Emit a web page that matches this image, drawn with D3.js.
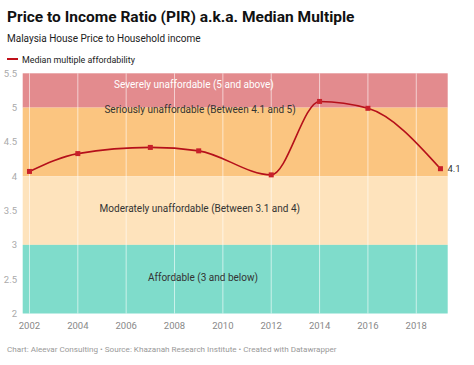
<!DOCTYPE html>
<html><head><meta charset="utf-8">
<script src="https://cdn.jsdelivr.net/npm/d3@7"></script>
<style>body{margin:0;background:#fff;font-family:Roboto,sans-serif}</style>
</head><body><svg id="c" width="474" height="365"></svg>
<script>
const years = [2002, 2004, 2007, 2009, 2012, 2014, 2016, 2019];
const pir = [4.07, 4.33, 4.42, 4.37, 4.02, 5.09, 4.99, 4.11];
const xTicks = [2002, 2004, 2006, 2008, 2010, 2012, 2014, 2016, 2018];
const yTicks = [2, 2.5, 3, 3.5, 4, 4.5, 5, 5.5];
const bandLo = [5, 4, 3, 2];
const bandHi = [5.5, 5, 4, 3];
const bandColors = ["#e38b8e", "#fbc580", "#fee3bc", "#7fdccb"];
const bandLabels = ["Severely unaffordable (5 and above)", "Seriously unaffordable (Between 4.1 and 5)", "Moderately unaffordable (Between 3.1 and 4)", "Affordable (3 and below)"];
const bandLabelYear = [2005.5, 2005.1, 2004.9, 2006.9];
const bandLabelVal = [5.28, 4.92, 3.48, 2.47];
const bandLabelColors = ["#fff", "#333", "#333", "#333"];

const svg = d3.select("#c");
const x = d3.scaleLinear().domain([2001.72, 2019.3]).range([22.7, 447.7]);
const y = d3.scaleLinear().domain([2, 5.5]).range([313.5, 73.3]);

svg.append("text").attr("x", 7).attr("y", 22).attr("font-size", 15.5).attr("font-weight", 700).attr("fill", "#111")
  .text("Price to Income Ratio (PIR) a.k.a. Median Multiple");
svg.append("text").attr("x", 7).attr("y", 42).attr("font-size", 10).attr("fill", "#222")
  .text("Malaysia House Price to Household income");
svg.append("line").attr("x1", 7).attr("x2", 18).attr("y1", 59).attr("y2", 59).attr("stroke", "#c0101a").attr("stroke-width", 2);
svg.append("text").attr("x", 22).attr("y", 62.5).attr("font-size", 8.9).attr("fill", "#222").text("Median multiple affordability");

// bands
svg.selectAll("rect.band").data(bandLo).join("rect")
  .attr("x", x(2001.72)).attr("width", x(2019.3) - x(2001.72))
  .attr("y", (d, i) => y(bandHi[i])).attr("height", (d, i) => y(d) - y(bandHi[i]))
  .attr("fill", (d, i) => bandColors[i]);

// vertical grid
svg.selectAll("line.grid").data(xTicks).join("line")
  .attr("x1", d => x(d)).attr("x2", d => x(d)).attr("y1", y(5.5)).attr("y2", y(2))
  .attr("stroke", "#fff").attr("stroke-opacity", 0.6).attr("stroke-width", 1);

// band labels
svg.selectAll("text.bl").data(bandLabels).join("text")
  .attr("x", (d, i) => x(bandLabelYear[i])).attr("y", (d, i) => y(bandLabelVal[i]))
  .attr("font-size", 10).attr("fill", (d, i) => bandLabelColors[i]).text(d => d);

// axes labels
svg.selectAll("text.yt").data(yTicks).join("text")
  .attr("x", 17).attr("y", d => y(d) + 3.5).attr("text-anchor", "end")
  .attr("font-size", 9.5).attr("fill", "#aaa").text(d => d);
svg.selectAll("text.xt").data(xTicks).join("text")
  .attr("x", d => x(d)).attr("y", 329).attr("text-anchor", "middle")
  .attr("font-size", 9.5).attr("fill", "#888").text(d => d);

// line
const pts = years.map((d, i) => [d, pir[i]]);
svg.append("path").datum(pts)
  .attr("d", d3.line().x(d => x(d[0])).y(d => y(d[1])).curve(d3.curveMonotoneX))
  .attr("fill", "none").attr("stroke", "#b5101a").attr("stroke-width", 1.6);
svg.selectAll("rect.pt").data(pts).join("rect")
  .attr("x", d => x(d[0]) - 2.5).attr("y", d => y(d[1]) - 2.5).attr("width", 5).attr("height", 5)
  .attr("fill", "#c8202a");
svg.append("text").attr("x", x(years[years.length - 1]) + 7).attr("y", y(pir[pir.length - 1]) + 3.5)
  .attr("font-size", 9.5).attr("fill", "#333").text(d3.format(".1f")(pir[pir.length - 1]));

svg.append("text").attr("x", 7).attr("y", 352).attr("font-size", 8.1).attr("fill", "#999")
  .text("Chart: Aleevar Consulting • Source: Khazanah Research Institute • Created with Datawrapper");
</script></body></html>
